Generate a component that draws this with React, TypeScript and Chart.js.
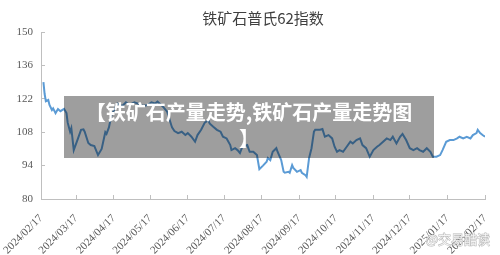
import React, { useEffect, useRef } from "react";
import { Chart, registerables } from "chart.js";

Chart.register(...registerables);

const chartTitle = "铁矿石普氏62指数";
const bannerLines = ["【铁矿石产量走势,铁矿石产量走势图", "】"];
const watermark = "@交易酷读";

// day offsets counted from 2024/02/17
const dayOffsets = [
  2, 3, 4, 6, 7, 9, 10, 12, 14, 16, 19, 21, 22, 24, 25, 27, 30, 33, 35, 36,
  39, 41, 44, 47, 50, 53, 54, 56, 58, 63, 67, 70, 73, 77, 80, 84, 88, 91, 94, 96,
  100, 104, 108, 110, 113, 116, 119, 121, 124, 127, 129, 132, 135, 138, 139, 142, 145, 148, 150, 153,
  156, 157, 160, 162, 164, 166, 170, 172, 175, 178, 180, 183, 186, 187, 189, 191, 194, 195, 198, 200,
  201, 204, 205, 207, 208, 211, 214, 215, 218, 219, 221, 223, 225, 226, 230, 232, 234, 237, 240, 242,
  244, 246, 249, 252, 255, 257, 260, 263, 265, 268, 271, 274, 277, 279, 282, 285, 288, 290, 293, 296,
  298, 301, 304, 307, 310, 312, 315, 318, 321, 323, 326, 329, 331, 334, 337, 340, 343, 345, 348, 351,
  354, 356, 359, 360, 362, 364, 366,
];

const prices = [
  129, 124, 121, 121.5, 119.4, 117.3, 118, 116, 117.7, 116.8, 117.8, 116, 112, 108.2, 109.7, 100.5, 104.7, 109, 109.2, 108.2,
  103.5, 102.6, 102.2, 98.4, 101, 108, 107.3, 110, 115, 120, 119, 120.5, 119.4, 120.5, 120, 119, 119.4, 120.5, 120, 120.8,
  119, 116.6, 110, 108.5, 107.6, 108.2, 106.8, 107.6, 106.1, 104, 106.8, 109, 112, 113, 111.7, 110.3, 109, 108.2, 106.1, 105.4,
  102.6, 100.5, 101.3, 100.5, 99.3, 101.9, 102.6, 99.8, 99.8, 98.4, 92.5, 94, 95.6, 97.2, 96.3, 99.8, 101.3, 99.8, 96.3, 91.4,
  91, 91.4, 91, 94.2, 93, 91.4, 92.1, 91, 90, 89.3, 97.2, 101.3, 108.2, 109, 109, 109.3, 106.1, 106.8, 105.4, 101.9,
  99.8, 100.5, 99.8, 101.9, 104, 103.3, 104.7, 105.4, 102.6, 101.3, 97.7, 100.5, 101.9, 102.6, 104, 105.4, 104.7, 106.1, 103.3, 106.1,
  107.3, 104.7, 101.3, 100.5, 101.3, 100.5, 99.8, 101.3, 99.8, 97.7, 97.7, 98.4, 100.5, 104, 104.7, 104.7, 105.4, 106.1, 105.4, 106.1,
  105.4, 106.8, 107.6, 109, 107.6, 106.8, 106.1,
];

const tickDays = [0, 29, 60, 90, 121, 151, 182, 213, 243, 274, 304, 335, 366];
const tickLabels = [
  "2024/02/17", "2024/03/17", "2024/04/17", "2024/05/17", "2024/06/17", "2024/07/17",
  "2024/08/17", "2024/09/17", "2024/10/17", "2024/11/17", "2024/12/17", "2025/01/17", "2025/02/17",
];

const yMin = 80;
const yMax = 150;
const yStep = 14;

const overlayPlugin = {
  id: "overlay",
  afterDraw(chart: any) {
    const ctx = chart.ctx as CanvasRenderingContext2D;
    const area = chart.chartArea;
    ctx.save();
    // title
    ctx.fillStyle = "#404040";
    ctx.font = '15px "Noto Sans CJK SC", sans-serif';
    ctx.textAlign = "center";
    ctx.textBaseline = "middle";
    ctx.fillText(chartTitle, (area.left + area.right) / 2, 18);
    // banner
    ctx.fillStyle = "rgba(0,0,0,0.38)";
    ctx.fillRect(64, 96, 370, 62);
    ctx.fillStyle = "#ffffff";
    ctx.font = 'bold 20px "Noto Sans CJK SC", sans-serif';
    ctx.fillText(bannerLines[0], 249, 112);
    ctx.fillText(bannerLines[1], 249, 138);
    // watermark
    ctx.font = '13px "Noto Sans CJK SC", sans-serif';
    ctx.textAlign = "right";
    ctx.lineWidth = 1;
    ctx.strokeStyle = "rgba(150,150,150,0.7)";
    ctx.strokeText(watermark, 490, 239);
    ctx.fillStyle = "rgba(255,255,255,0.85)";
    ctx.fillText(watermark, 490, 239);
    ctx.restore();
  },
};

export default function App() {
  const ref = useRef<HTMLCanvasElement | null>(null);

  useEffect(() => {
    document.body.style.margin = "0";
    const canvas = ref.current;
    if (!canvas) return;
    const points = dayOffsets.map((d, i) => ({ x: d, y: prices[i] }));
    const axisColor = "#bfbfbf";
    const tickFont = { family: '"Liberation Serif", serif', size: 11 };
    const chart = new Chart(canvas, {
      type: "line",
      data: {
        datasets: [
          {
            data: points,
            borderColor: "#5b9bd5",
            borderWidth: 2,
            pointRadius: 0,
            tension: 0,
            fill: false,
          },
        ],
      },
      options: {
        animation: false,
        responsive: false,
        devicePixelRatio: 1,
        layout: { padding: { top: 32, right: 15, left: 0, bottom: 0 } },
        plugins: {
          legend: { display: false },
          title: { display: false },
          tooltip: { enabled: false },
        },
        scales: {
          x: {
            type: "linear",
            min: tickDays[0],
            max: tickDays[tickDays.length - 1],
            afterBuildTicks: (s: any) => {
              s.ticks = tickDays.map((v) => ({ value: v }));
            },
            afterFit: (s: any) => {
              s.height = 56;
              s.paddingLeft = 0;
              s.paddingRight = 0;
            },
            ticks: {
              autoSkip: false,
              minRotation: 45,
              maxRotation: 45,
              padding: 17,
              color: "#595959",
              font: tickFont,
              callback: (_v: any, i: number) => tickLabels[i],
            },
            grid: {
              drawOnChartArea: false,
              drawTicks: true,
              tickLength: -4,
              tickColor: axisColor,
            },
            border: { color: axisColor, width: 1 },
          },
          y: {
            min: yMin,
            max: yMax,
            afterFit: (s: any) => {
              s.width = 41;
            },
            ticks: {
              stepSize: yStep,
              padding: 12,
              color: "#595959",
              font: tickFont,
            },
            grid: {
              drawOnChartArea: false,
              drawTicks: true,
              tickLength: -4,
              tickColor: axisColor,
            },
            border: { color: axisColor, width: 1 },
          },
        },
      },
      plugins: [overlayPlugin],
    });
    return () => chart.destroy();
  }, []);

  return (
    <div style={{ position: "absolute", left: 0, top: 0, width: 500, height: 255, background: "#fff" }}>
      <canvas ref={ref} width={500} height={255} />
    </div>
  );
}
